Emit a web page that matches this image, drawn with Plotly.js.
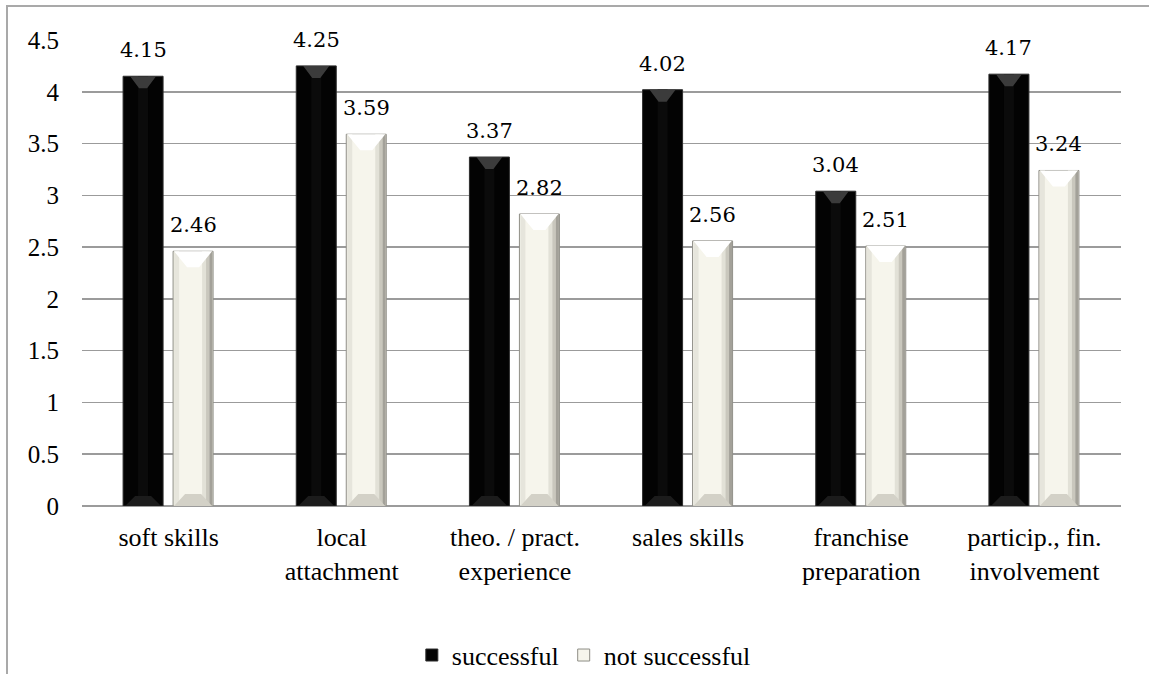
<!DOCTYPE html>
<html>
<head>
<meta charset="utf-8">
<script src="https://cdn.plot.ly/plotly-3.0.1.min.js"></script>
<style>
  html, body { margin: 0; padding: 0; background: #ffffff; }
  #wrap { position: relative; width: 1149px; height: 674px; overflow: hidden; }
  #frame { position: absolute; left: 6px; top: 5px; width: 1200px; height: 700px;
           border-top: 2px solid #a9a9a9; border-left: 2px solid #a9a9a9; pointer-events: none; }
  #chart { position: absolute; left: 0; top: 0; width: 1149px; height: 674px; }
</style>
</head>
<body>
<div id="wrap">
  <div id="chart"></div>
  <div id="frame"></div>
</div>
<script>
// Mean ratings per factor, split by franchisee outcome
const categories = [
  "soft skills",
  "local<br>attachment",
  "theo. / pract.<br>experience",
  "sales skills",
  "franchise<br>preparation",
  "particip., fin.<br>involvement"
];
const successful    = [4.15, 4.25, 3.37, 4.02, 3.04, 4.17];
const notSuccessful = [2.46, 3.59, 2.82, 2.56, 2.51, 3.24];
const yTicks = [0, 0.5, 1, 1.5, 2, 2.5, 3, 3.5, 4, 4.5];

// Layout geometry
const W = 1149, H = 674;
const M = { l: 82, r: 28, t: 40, b: 168 };
const xRange = [-0.5, 5.5], yRange = [0, 4.5];
const pxX = (W - M.l - M.r) / (xRange[1] - xRange[0]);   // pixels per x unit
const pxY = (H - M.t - M.b) / (yRange[1] - yRange[0]);   // pixels per y unit
const dx = p => p / pxX, dy = p => p / pxY;

const idx = categories.map((_, i) => i);
const barW = dx(40);
const offDark = dx(-45.5);
const offLight = dx(4.5);

const serif = "Liberation Serif";

// Plain bar traces (one per series + shading strips)
function bar(values, offset, width, color, opts) {
  return Object.assign({
    type: "bar", x: idx, y: values, base: 0,
    offset: offset, width: width,
    marker: { color: color, line: { width: 0 } },
    showlegend: false, hoverinfo: "skip"
  }, opts || {});
}

// Trapezoid bevel polygons at the top / bottom of each bar
function bevel(values, offset, inset, innerInset, height, where, color) {
  const xs = [], ys = [];
  values.forEach((v, i) => {
    const x0 = i + offset, x1 = x0 + barW;
    const edge = where === "top" ? v : 0;
    const inner = where === "top" ? v - dy(height) : dy(height);
    xs.push(x0 + dx(inset), x1 - dx(inset), x1 - dx(innerInset), x0 + dx(innerInset), x0 + dx(inset), null);
    ys.push(edge, edge, inner, inner, edge, null);
  });
  return {
    type: "scatter", mode: "lines", x: xs, y: ys, fill: "toself",
    fillcolor: color, line: { width: 0 }, connectgaps: false,
    showlegend: false, hoverinfo: "skip"
  };
}

const traces = [
  // successful: black bars
  bar(successful, offDark, barW, "#030303", {
    name: "successful", showlegend: true,
    marker: { color: "#030303", line: { color: "#2e2e2e", width: 1 } }
  }),
  bar(successful, offDark + dx(15), dx(10), "#0b0b0b"),
  // not successful: cream bars with shaded sides
  bar(notSuccessful, offLight, barW, "#f6f5ec", {
    name: "not successful", showlegend: true,
    marker: { color: "#f6f5ec", line: { color: "#8e8d86", width: 1 } }
  }),
  bar(notSuccessful, offLight + dx(1), dx(5), "#e6e5dc"),
  bar(notSuccessful, offLight + barW - dx(11), dx(10), "#e2e1d7"),
  bar(notSuccessful, offLight + barW - dx(7), dx(6), "#c9c7bd"),
  bar(notSuccessful, offLight + barW - dx(3.5), dx(3), "#a3a199"),
  // bevels
  bevel(successful, offDark, 7, 16, 12, "top", "#3b3b3b"),
  bevel(successful, offDark, 2, 12, 10, "bottom", "#1c1c1c"),
  bevel(notSuccessful, offLight, 1, 14, 16, "top", "#ffffff"),
  bevel(notSuccessful, offLight, 1, 12, 12, "bottom", "#d3d1c7")
];

// Value labels above each bar
const labelFont = { family: "DejaVu Serif", size: 21, color: "#000000" };
const annotations = [];
successful.forEach((v, i) => annotations.push({
  x: i + offDark + barW / 2, y: v, text: v.toFixed(2), showarrow: false,
  yanchor: "bottom", yshift: 12, font: labelFont
}));
notSuccessful.forEach((v, i) => annotations.push({
  x: i + offLight + barW / 2, y: v, text: v.toFixed(2), showarrow: false,
  yanchor: "bottom", yshift: 12, font: labelFont
}));

const layout = {
  width: W, height: H,
  margin: M,
  paper_bgcolor: "rgba(0,0,0,0)",
  plot_bgcolor: "#ffffff",
  barmode: "overlay",
  hovermode: false,
  font: { family: serif, size: 25, color: "#000000" },
  xaxis: {
    type: "linear", range: xRange,
    tickvals: idx, ticktext: categories,
    showgrid: false, zeroline: false, showline: false, ticks: "",
    ticklabelstandoff: 13, automargin: false,
    tickfont: { family: serif, size: 26, color: "#000000" },
    fixedrange: true
  },
  yaxis: {
    range: yRange, tickvals: yTicks,
    ticktext: yTicks.map(t => String(t)),
    showgrid: true, gridcolor: "#9b9b9b", gridwidth: 1.5,
    zeroline: true, zerolinecolor: "#9b9b9b", zerolinewidth: 1.5,
    showline: false, ticks: "",
    ticklabelstandoff: 22, automargin: false,
    tickfont: { family: serif, size: 25, color: "#000000" },
    fixedrange: true
  },
  legend: {
    orientation: "h", x: 0.483, xanchor: "center",
    yref: "container", y: 0.028, yanchor: "middle",
    font: { family: serif, size: 26, color: "#000000" },
    bgcolor: "rgba(0,0,0,0)", traceorder: "normal", itemwidth: 30
  },
  annotations: annotations
};

Plotly.newPlot("chart", traces, layout, { displayModeBar: false, staticPlot: true });
</script>
</body>
</html>
